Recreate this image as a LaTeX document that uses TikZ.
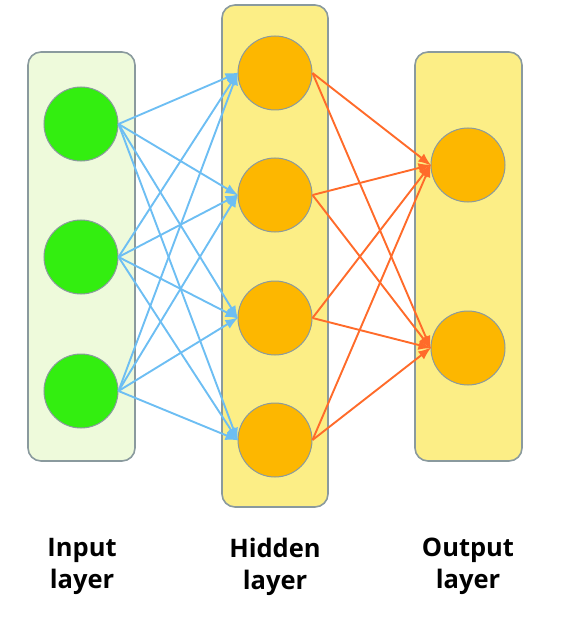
\documentclass[tikz,border=0pt]{standalone}
\usepackage{fontspec}
\setmainfont{Open Sans}
\usetikzlibrary{arrows.meta}
\definecolor{inbox}{HTML}{EEFADB}
\definecolor{hidbox}{HTML}{FCEE86}
\definecolor{boxline}{HTML}{8A9A9E}
\definecolor{ingreen}{HTML}{33EE10}
\definecolor{orng}{HTML}{FDB700}
\definecolor{bluearr}{HTML}{6DBEF3}
\definecolor{redarr}{HTML}{FF6B2A}
\tikzset{
  layerbox/.style={draw=boxline, line width=1.6bp, rounded corners=13bp},
  neuron/.style={circle, draw=boxline, line width=1bp, minimum size=74bp, inner sep=0pt},
  inneuron/.style={neuron, fill=ingreen},
  hidneuron/.style={neuron, fill=orng},
  bluelink/.style={draw=bluearr, line width=1.9bp, -{Latex[length=13bp,width=10bp]}, shorten >=-1bp},
  redlink/.style={draw=redarr, line width=1.9bp, -{Latex[length=13bp,width=10bp]}, shorten >=-1bp},
  lbl/.style={font=\fontsize{25.5bp}{32bp}\selectfont\bfseries, align=center, anchor=north, inner sep=0pt}
}
\begin{document}
\begin{tikzpicture}[x=1bp,y=-1bp]
\useasboundingbox (0,0) rectangle (564,630);
\node[layerbox, fill=inbox, minimum width=107bp, minimum height=409bp, inner sep=0pt] (inbox) at (81.5,256.5) {};
\node[layerbox, fill=hidbox, minimum width=106bp, minimum height=502bp, inner sep=0pt] (hidbox) at (275,256) {};
\node[layerbox, fill=hidbox, minimum width=107bp, minimum height=409bp, inner sep=0pt] (outbox) at (468.5,256.5) {};
\node[inneuron] (i1) at (81,124) {};
\node[inneuron] (i2) at (81,257) {};
\node[inneuron] (i3) at (81,391) {};
\node[hidneuron] (h1) at (275,73) {};
\node[hidneuron] (h2) at (275,195) {};
\node[hidneuron] (h3) at (275,318) {};
\node[hidneuron] (h4) at (275,440) {};
\node[hidneuron] (o1) at (468,165) {};
\node[hidneuron] (o2) at (468,348) {};
\foreach \i in {i1,i2,i3}{\foreach \h in {h1,h2,h3,h4}{\draw[bluelink] (\i.east) -- (\h.west);}}
\foreach \h in {h1,h2,h3,h4}{\foreach \o in {o1,o2}{\draw[redlink] (\h.east) -- (\o.west);}}
\node[lbl] (l1) at (82,538) {Input\\layer};
\node[lbl] (l2) at (275,538) {Hidden\\layer};
\node[lbl] (l3) at (468,538) {Output\\layer};
\end{tikzpicture}
\end{document}
